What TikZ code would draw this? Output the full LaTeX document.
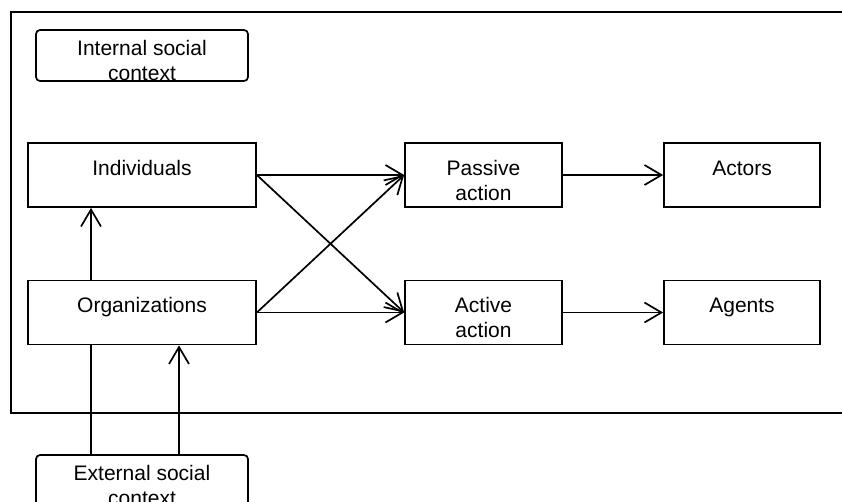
\documentclass[tikz,border=0pt]{standalone}
\usepackage{fontspec}
\setmainfont{Liberation Sans}
\usetikzlibrary{arrows.meta}

\begin{document}
\begin{tikzpicture}[x=1pt, y=-1pt,
    line width=1.7pt,
    txt/.style={font=\fontsize{21}{25}\selectfont, align=center, text height=0pt, text depth=0pt, inner sep=0pt},
    two/.style={text height=50pt},
    box/.style={txt, draw, minimum height=64pt},
    ctx/.style={txt, two, draw, rounded corners=4pt, minimum width=212pt, minimum height=51pt},
    arr/.style={-{Straight Barb[length=17pt, width=20pt, line width=1.7pt]}}
]
    \useasboundingbox (0,0) rectangle (842,501);
    \clip (0,0) rectangle (842,501);
    \draw (11,12) rectangle (880,413);

    \node[ctx] (internal) at (142,55.5) {Internal social\\context};
    \node[ctx] (external) at (142,480.5) {External social\\context};

    \node[box, minimum width=228pt] (ind) at (142,175) {Individuals};
    \node[box, minimum width=228pt] (org) at (142,312.5) {Organizations};
    \node[box, two, minimum width=157pt] (passive) at (483.5,175) {Passive\\action};
    \node[box, two, minimum width=157pt] (active) at (483.5,312.5) {Active\\action};
    \node[box, minimum width=156pt] (actors) at (742,175) {Actors};
    \node[box, minimum width=156pt] (agents) at (742,312.5) {Agents};

    \draw[arr] (ind.east) -- (passive.west);
    \draw[arr] (ind.east) -- (active.west);
    \draw[arr] (org.east) -- (passive.west);
    \draw[arr] (org.east) -- (active.west);
    \draw[arr] (passive.east) -- (actors.west);
    \draw[arr] (active.east) -- (agents.west);
    \draw[arr] ([xshift=-51pt]org.north) -- ([xshift=-51pt]ind.south);
    \draw ([xshift=-51pt]external.north) -- ([xshift=-51pt]org.south);
    \draw[arr] ([xshift=37pt]external.north) -- ([xshift=37pt]org.south);
\end{tikzpicture}
\end{document}
